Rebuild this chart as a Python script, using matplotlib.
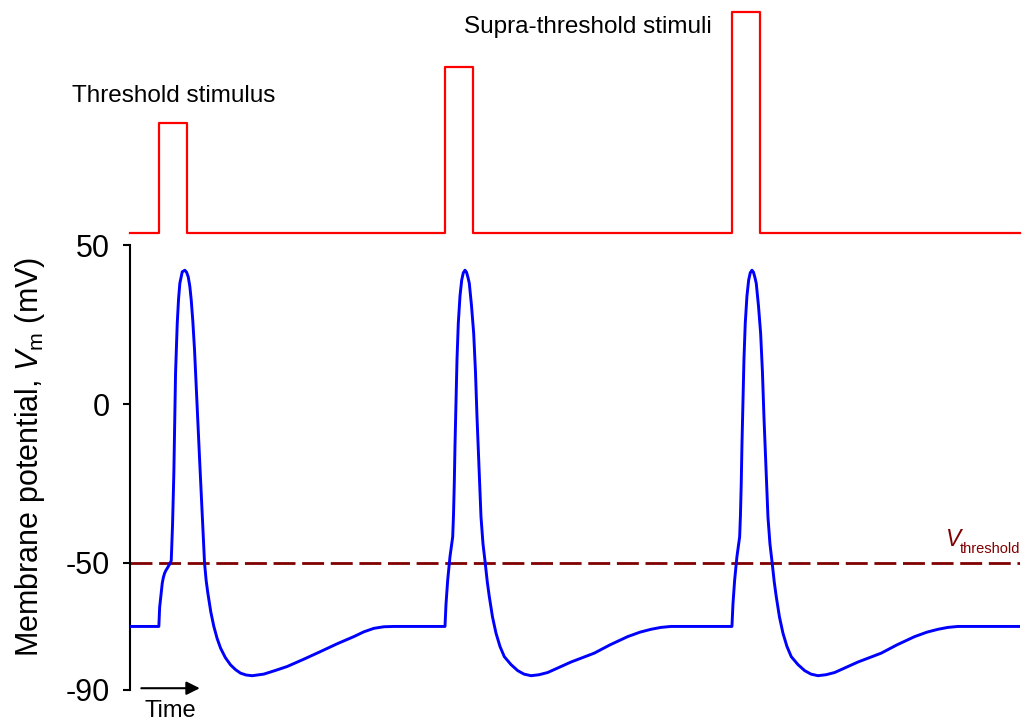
import numpy as np
import matplotlib
matplotlib.use("Agg")
import matplotlib.pyplot as plt

plt.rcParams["font.family"] = ["Liberation Sans", "DejaVu Sans"]
plt.rcParams["mathtext.fontset"] = "custom"
plt.rcParams["mathtext.rm"] = "Liberation Sans"
plt.rcParams["mathtext.it"] = "Liberation Sans:italic"
plt.rcParams["axes.unicode_minus"] = False

# time in ms, membrane potential in mV
T_END = 89.0
V_REST = -70.0
V_THRESHOLD = -50.0

# stimulus / spike onsets and relative stimulus amplitudes (arbitrary units)
onsets = [2.88, 31.5, 60.2]
stim_width = 2.85
stim_amps = [1.0, 1.5, 2.0]

# action potential evoked by the threshold stimulus (time relative to onset)
ap_thr_t = [0.0, 0.08, 0.24, 0.34, 0.45, 0.57, 0.7, 0.84, 1.04, 1.24, 1.37, 1.5,
            1.67, 1.84, 1.97, 2.1, 2.34, 2.6, 2.77, 2.94, 3.1, 3.24, 3.4, 3.57,
            3.73, 3.9, 4.07, 4.24, 4.4, 4.57, 4.73, 4.9, 5.2, 5.5, 5.83, 6.17,
            6.65, 7.17, 7.67, 8.17, 8.75, 9.34, 10.5, 11.7, 12.84, 14.5, 16.17, 17.8,
            19.5, 20.5, 21.5, 22.5, 23.5]
ap_thr_v = [-70.0, -64.0, -59.5, -56.4, -54.6, -53.3, -52.4, -51.7, -50.6, -49.3, -38.0, -21.8,
            9.6, 25.4, 33.0, 38.0, 41.6, 42.1, 41.5, 40.0, 37.0, 32.7, 26.0, 17.0,
            6.0, -6.0, -17.0, -28.0, -39.0, -50.0, -55.5, -59.5, -65.5, -70.0, -73.8, -76.8,
            -79.8, -82.1, -83.6, -84.7, -85.3, -85.5, -85.0, -83.8, -82.6, -80.3, -77.9, -75.5,
            -73.2, -71.7, -70.6, -70.1, -70.0]

# action potential evoked by a supra-threshold stimulus
ap_sup_t = [0.0, 0.1, 0.27, 0.5, 0.77, 0.85, 0.93, 1.0, 1.1, 1.2, 1.33, 1.5,
            1.67, 1.83, 2.0, 2.15, 2.3, 2.43, 2.65, 2.87, 3.05, 3.2, 3.4, 3.6,
            3.8, 4.03, 4.23, 4.43, 4.75, 5.1, 5.5, 5.93, 6.6, 7.27, 7.9, 8.6,
            9.4, 10.27, 11.6, 12.6, 13.6, 14.93, 16.5, 18.27, 19.5, 20.6, 21.6, 22.6]
ap_sup_v = [-70.0, -63.0, -55.4, -48.0, -41.8, -35.0, -24.9, -13.0, 1.2, 14.0, 25.4, 34.0,
            39.0, 41.3, 42.1, 41.5, 39.8, 38.0, 31.0, 22.2, 10.0, -4.0, -20.0, -35.5,
            -44.0, -50.2, -56.0, -60.6, -67.0, -72.1, -76.3, -79.5, -82.0, -83.9, -85.0, -85.5,
            -85.2, -84.5, -82.6, -81.2, -80.0, -78.4, -75.8, -73.2, -71.8, -70.9, -70.3, -70.0]


def build_vm():
    t = [0.0]
    v = [V_REST]
    for i, t0 in enumerate(onsets):
        rel_t = ap_thr_t if i == 0 else ap_sup_t
        rel_v = ap_thr_v if i == 0 else ap_sup_v
        t += [t0 + x for x in rel_t]
        v += list(rel_v)
    t.append(T_END)
    v.append(V_REST)
    return np.array(t), np.array(v)


def build_stim():
    t = [0.0]
    s = [0.0]
    for t0, amp in zip(onsets, stim_amps):
        t += [t0, t0, t0 + stim_width, t0 + stim_width]
        s += [0.0, amp, amp, 0.0]
    t.append(T_END)
    s.append(0.0)
    return np.array(t), np.array(s)


fig = plt.figure(figsize=(10.24, 7.21), dpi=100)
ax = fig.add_axes([0.127, 0.043, 0.869, 0.617])
ax_stim = fig.add_axes([0.127, 0.6764, 0.869, 0.3073], sharex=ax)

t_vm, vm = build_vm()
ax.plot(t_vm, vm, color="#0000ff", lw=2.1, solid_joinstyle="round", zorder=3)
thr_line, = ax.plot([0, T_END], [V_THRESHOLD, V_THRESHOLD], color="#800000", lw=2.0, zorder=2)
thr_line.set_dashes((7.9, 2.4))

ax.set_xlim(0, T_END)
ax.set_ylim(-90, 50)
ax.set_yticks([50, 0, -50, -90])
ax.tick_params(axis="y", direction="out", length=5, width=1.5, pad=9.5, labelsize=22)
ax.set_xticks([])
for side in ["top", "right", "bottom"]:
    ax.spines[side].set_visible(False)
ax.spines["left"].set_linewidth(1.5)

ax.set_ylabel(r"Membrane potential, $\mathit{V}_\mathrm{m}$ (mV)", fontsize=22)
ax.yaxis.set_label_coords(-0.0933, 0.524)

# V_threshold label: italic V with a small subscript
ax.text(T_END, -46.8, "threshold", color="#800000", fontsize=10.5,
        ha="right", va="baseline")
ax.text(83.0, -44.7, "V", color="#800000", fontsize=16.5, fontstyle="italic",
        ha="right", va="baseline")

# time arrow
ax.annotate("", xy=(0.0815, 0.004), xytext=(0.0095, 0.004), xycoords="axes fraction",
            arrowprops=dict(arrowstyle="-|>", color="black", lw=1.5, mutation_scale=20),
            annotation_clip=False)
ax.text(0.0455, -0.047, "Time", transform=ax.transAxes, fontsize=17,
        ha="center", va="center")

# stimulus trace
t_st, st = build_stim()
ax_stim.plot(t_st, st, color="#ff0000", lw=1.6, clip_on=False)
ax_stim.set_ylim(0, 2.0)
ax_stim.axis("off")

fig.text(0.1693, 0.859, "Threshold stimulus", fontsize=17.5, ha="center", va="baseline")
fig.text(0.574, 0.9538, "Supra-threshold stimuli", fontsize=17.5, ha="center", va="baseline")

fig.savefig("out.png", dpi=100)
